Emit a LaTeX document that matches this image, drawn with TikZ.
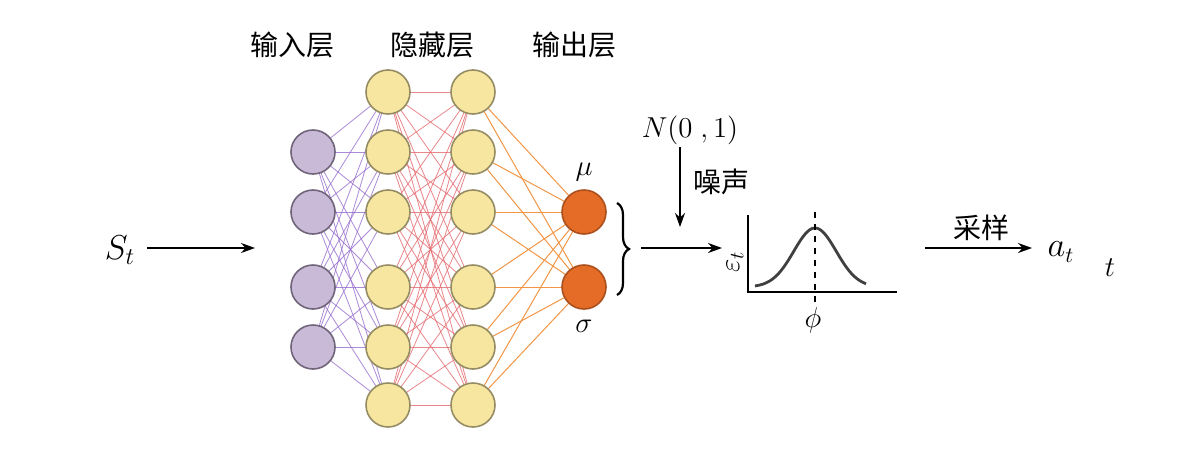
\documentclass[tikz,border=0pt]{standalone}
\usepackage{fontspec}
\usepackage{amsmath}
\usetikzlibrary{arrows.meta,decorations.pathreplacing}
\newfontfamily\cjk{Noto Sans CJK SC}

\definecolor{inpfill}{RGB}{201,186,216}
\definecolor{inpline}{RGB}{112,100,122}
\definecolor{hidfill}{RGB}{246,230,160}
\definecolor{hidline}{RGB}{150,140,100}
\definecolor{outfill}{RGB}{228,108,38}
\definecolor{outline}{RGB}{170,80,30}
\definecolor{edgepurple}{RGB}{150,110,205}
\definecolor{edgered}{RGB}{228,105,110}
\definecolor{edgeorange}{RGB}{242,150,70}

\begin{document}
\begin{tikzpicture}[x=0.5pt,y=-0.5pt,
    neuron/.style={circle, draw, line width=0.8pt, minimum size=22pt, inner sep=0pt},
    inp/.style={neuron, fill=inpfill, draw=inpline},
    hid/.style={neuron, fill=hidfill, draw=hidline},
    outp/.style={neuron, fill=outfill, draw=outline},
    cn/.style={font=\cjk\fontsize{14}{16}\selectfont},
    arr/.style={-{Stealth[length=7pt,width=5pt]}, line width=0.8pt}]
    \useasboundingbox (0,0) rectangle (1200,450);

    % layer titles
    \node[cn] (tin)  at (292,45) {输入层};
    \node[cn] (thid) at (432,45) {隐藏层};
    \node[cn] (tout) at (574,45) {输出层};

    % edges first, nodes on top
    \foreach \i/\y in {1/152,2/212,3/287,4/347}
      \foreach \j/\yy in {1/92,2/152,3/212,4/287,5/347,6/405}
        \draw[edgepurple, line width=0.4pt, opacity=0.8] (313,\y) -- (388,\yy);
    \foreach \i/\y in {1/92,2/152,3/212,4/287,5/347,6/405}
      \foreach \j/\yy in {1/92,2/152,3/212,4/287,5/347,6/405}
        \draw[edgered, line width=0.4pt, opacity=0.8] (388,\y) -- (473,\yy);
    \foreach \i/\y in {1/92,2/152,3/212,4/287,5/347,6/405}
      \foreach \j/\yy in {1/212,2/287}
        \draw[edgeorange, line width=0.5pt] (473,\y) -- (584,\yy);

    % input layer
    \foreach \i/\y in {1/152,2/212,3/287,4/347}
      \node[inp] (i\i) at (313,\y) {};
    % hidden layers
    \foreach \i/\y in {1/92,2/152,3/212,4/287,5/347,6/405} {
      \node[hid] (a\i) at (388,\y) {};
      \node[hid] (b\i) at (473,\y) {};
    }
    % output
    \node[outp] (mu) at (584,212) {};
    \node[outp] (sig) at (584,287) {};
    \node (lmu) at (584,172) {\fontsize{14}{16}\selectfont$\mu$};
    \node (lsig) at (584,326) {\fontsize{14}{16}\selectfont$\sigma$};

    % brace
    \coordinate (brtop) at (617,203);
    \coordinate (brbot) at (617,295);
    \draw[decorate, decoration={brace, amplitude=6pt}, line width=1.1pt] (brtop) -- (brbot);

    % state input
    \node (st) at (120,250) {\fontsize{17}{20}\selectfont$S_t$};
    \coordinate (sout) at (147,248);
    \coordinate (nin) at (255,248);
    \draw[arr] (sout) -- (nin);

    % noise
    \node (noise) at (690,130) {\fontsize{15}{18}\selectfont$N(0\;,1)$};
    \node[cn, anchor=west] (lnoise) at (686,182) {噪声};
    \coordinate (ntop) at (680,147);
    \coordinate (ndown) at (680,227);
    \draw[arr] (ntop) -- (ndown);
    \coordinate (pout) at (641,248);
    \coordinate (pin) at (722,248);
    \draw[arr] (pout) -- (pin);

    % distribution plot
    \coordinate (o) at (748,292);
    \coordinate (ytop) at (748,215);
    \coordinate (xend) at (897,292);
    \draw[line width=0.8pt] (ytop) -- (o) -- (xend);
    \draw[line width=1.4pt, black!75]
      plot[domain=755:866, samples=60, smooth] (\x,{287-59*exp(-((\x-815)/30)^2)});
    \draw[dashed, line width=0.8pt] (815,212) -- (815,305);
    \node (phi) at (813,320) {\fontsize{14}{16}\selectfont$\phi$};
    \node[rotate=90] (eps) at (735,262) {\fontsize{14}{16}\selectfont$\varepsilon_t$};

    % sampling
    \coordinate (sstart) at (925,248);
    \coordinate (send) at (1032,248);
    \draw[arr] (sstart) -- (send);
    \node (at) at (1061,252) {\fontsize{16}{18}\selectfont$a_t$};
    \node[cn] (lsamp) at (981,228) {采样};
    \node (tt) at (1110,268) {\fontsize{14}{16}\selectfont$t$};
\end{tikzpicture}
\end{document}
